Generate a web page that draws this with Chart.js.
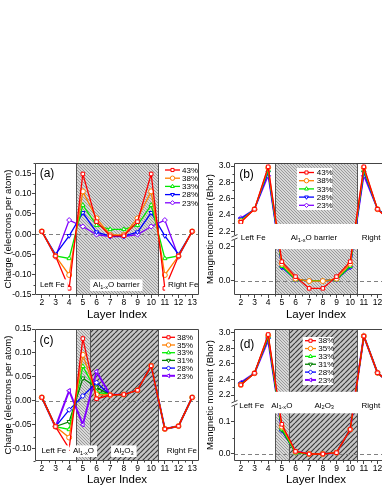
<!DOCTYPE html>
<html>
<head>
<meta charset="utf-8">
<script src="https://cdn.jsdelivr.net/npm/chart.js@4.4.0/dist/chart.umd.min.js"></script>
<style>
html, body { margin: 0; padding: 0; background: #fff; overflow: hidden; }
#wrap { position: relative; width: 382px; height: 494px; overflow: hidden; }
canvas { position: absolute; }
</style>
</head>
<body>
<div id="wrap">
  <canvas id="a" width="205" height="176" style="left:0;top:150px"></canvas>
  <canvas id="b" width="210" height="176" style="left:195px;top:150px"></canvas>
  <canvas id="c" width="205" height="176" style="left:0;top:318px"></canvas>
  <canvas id="d" width="210" height="176" style="left:195px;top:318px"></canvas>
</div>
<script>
const FONT = "'Liberation Sans', Arial, sans-serif";
const AXIS = '#444';

// layer index shared by every panel
const LAYERS = [2, 3, 4, 5, 6, 7, 8, 9, 10, 11, 12, 13];

// (a) charge, symmetric barrier
const A_NAMES = ['43%', '38%', '33%', '28%', '23%'];
const A_43 = [0.007, -0.054, -0.134, 0.149, 0.031, -0.004, -0.004, 0.031, 0.149, -0.134, -0.054, 0.007];
const A_38 = [0.007, -0.054, -0.101, 0.106, 0.039, -0.002, -0.002, 0.039, 0.106, -0.101, -0.054, 0.007];
const A_33 = [0.007, -0.054, -0.060, 0.072, 0.022, 0.012, 0.012, 0.022, 0.072, -0.060, -0.054, 0.007];
const A_28 = [0.007, -0.050, -0.004, 0.053, 0.005, -0.005, -0.005, 0.005, 0.053, -0.004, -0.050, 0.007];
const A_23 = [0.007, -0.056, 0.035, 0.019, -0.001, -0.006, -0.006, -0.001, 0.019, 0.035, -0.056, 0.007];
const A_TICKS = [-0.15, -0.1, -0.05, 0, 0.05, 0.1, 0.15];

// (b) magnetic moment, symmetric barrier
const B_43 = [2.31, 2.47, 2.99, 0.112, 0.024, -0.045, -0.045, 0.024, 0.112, 2.99, 2.47, 2.31];
const B_38 = [2.32, 2.47, 2.98, 0.100, 0.012, -0.002, -0.002, 0.012, 0.100, 2.98, 2.47, 2.32];
const B_33 = [2.33, 2.47, 2.95, 0.085, 0.006, 0.0, 0.0, 0.006, 0.085, 2.95, 2.47, 2.33];
const B_28 = [2.35, 2.47, 2.92, 0.080, 0.006, 0.0, 0.0, 0.006, 0.080, 2.92, 2.47, 2.35];
const B_23 = [2.36, 2.47, 2.88, 0.079, 0.006, 0.0, 0.0, 0.006, 0.079, 2.88, 2.47, 2.36];
const B_TICKS = [0, 0.2, 2.2, 2.4, 2.6, 2.8, 3.0];

// (c) charge, Al1-xO / Al2O3 barrier
const C_NAMES = ['38%', '35%', '33%', '31%', '28%', '23%'];
const C_38 = [0.007, -0.054, -0.100, 0.130, 0.004, 0.012, 0.013, 0.022, 0.073, -0.059, -0.053, 0.007];
const C_35 = [0.007, -0.054, -0.077, 0.096, 0.013, 0.012, 0.013, 0.022, 0.073, -0.059, -0.053, 0.007];
const C_33 = [0.007, -0.054, -0.060, 0.072, 0.019, 0.012, 0.013, 0.022, 0.073, -0.059, -0.053, 0.007];
const C_31 = [0.007, -0.054, -0.044, 0.047, 0.028, 0.012, 0.013, 0.022, 0.073, -0.059, -0.053, 0.007];
const C_28 = [0.007, -0.054, -0.019, 0.010, 0.038, 0.012, 0.013, 0.022, 0.073, -0.059, -0.053, 0.007];
const C_23 = [0.007, -0.055, 0.021, -0.050, 0.061, 0.012, 0.013, 0.022, 0.073, -0.059, -0.053, 0.007];
const C_TICKS = [-0.1, -0.05, 0, 0.05, 0.1, 0.15];

// (d) magnetic moment, Al1-xO / Al2O3 barrier
const D_38 = [2.33, 2.48, 2.975, 0.092, 0.008, 0.0, 0.0, 0.004, 0.076, 2.955, 2.485, 2.34];
const D_35 = [2.33, 2.48, 2.965, 0.085, 0.007, 0.0, 0.0, 0.004, 0.076, 2.955, 2.485, 2.34];
const D_33 = [2.335, 2.48, 2.95, 0.078, 0.004, 0.0, 0.0, 0.004, 0.076, 2.955, 2.485, 2.34];
const D_31 = [2.34, 2.48, 2.94, 0.075, 0.004, 0.0, 0.0, 0.004, 0.076, 2.955, 2.485, 2.34];
const D_28 = [2.35, 2.48, 2.93, 0.072, 0.006, 0.0, 0.0, 0.004, 0.076, 2.955, 2.485, 2.34];
const D_23 = [2.36, 2.48, 2.905, 0.075, 0.008, 0.0, 0.0, 0.004, 0.076, 2.955, 2.485, 2.34];
const D_TICKS = [0, 0.1, 2.2, 2.4, 2.6, 2.8, 3.0];

const COLORS_5 = ['#ff0000', '#ff7f00', '#00e800', '#0000ff', '#8000ff'];
const COLORS_6 = ['#ff0000', '#ff7f00', '#00f000', '#008000', '#0000ff', '#8000ff'];
// Origin-like symbol order: square, circle, up, down, diamond, left
const MARKERS = [['rect', 0], ['circle', 0], ['triangle', 0], ['triangle', 180], ['rectRot', 0], ['triangle', 270]];

Chart.defaults.font.family = FONT;
Chart.defaults.color = '#000';

// piecewise y axis for the broken panels
const BREAKS = {
  b: { lo: 0.25, hi: 2.13, fLo: 0.4303, fHi: 0.4402 },
  d: { lo: 0.148, hi: 2.13, fLo: 0.415, fHi: 0.458 }
};

class BrokenScale extends Chart.LinearScale {
  toDecimal(v) {
    const b = BREAKS[this.chart.canvas.id];
    if (v <= b.lo) return (v - this.min) / (b.lo - this.min) * b.fLo;
    if (v >= b.hi) return b.fHi + (v - b.hi) / (this.max - b.hi) * (1 - b.fHi);
    return b.fLo + (v - b.lo) / (b.hi - b.lo) * (b.fHi - b.fLo);
  }
  getPixelForValue(v) {
    return this.getPixelForDecimal(this.toDecimal(v));
  }
  getValueForPixel(p) {
    const b = BREAKS[this.chart.canvas.id];
    const f = this.getDecimalForPixel(p);
    if (f <= b.fLo) return this.min + f / b.fLo * (b.lo - this.min);
    if (f >= b.fHi) return b.hi + (f - b.fHi) / (1 - b.fHi) * (this.max - b.hi);
    return b.lo + (f - b.fLo) / (b.fHi - b.fLo) * (b.hi - b.lo);
  }
}
BrokenScale.id = 'broken';
BrokenScale.defaults = Chart.LinearScale.defaults;
Chart.register(BrokenScale);

const SUB_AL = ['Al', ['1-x'], 'O'];
const SUB_AL2 = ['Al', ['2'], 'O', ['3']];

const PANELS = {
  a: {
    tag: '(a)', tagAt: [12, 11],
    regions: [[4.5, 10.5, 'fine']],
    labelDy: 122,
    labels: [
      { x: 2.77, segs: ['Left Fe'] },
      { x: 7.45, segs: ['Al', ['1-x'], 'O barrier'] },
      { x: 11.24, segs: ['Right Fe'], align: 'left' }
    ],
    legend: { dx: 130, len: 15, gap: 2, dy: 7, row: 8.2 },
    minorY: [-0.125, -0.075, -0.025, 0.025, 0.075, 0.125, 0.175]
  },
  b: {
    tag: '(b)', tagAt: [12.5, 12],
    regions: [[4.5, 10.5, 'fine']],
    band: [0.186, 2.288],
    labelDy: 74.7,
    labels: [
      { x: 2.9, segs: ['Left Fe'] },
      { x: 7.35, segs: ['Al', ['1-x'], 'O barrier'] },
      { x: 10.85, segs: ['Right Fe'], align: 'left' }
    ],
    legend: { dx: 65, len: 15, gap: 2.7, dy: 9.5, row: 8.2, box: [63, 5, 35, 42] },
    minorY: [0.1, 2.3, 2.5, 2.7, 2.9]
  },
  c: {
    tag: '(c)', tagAt: [11.5, 12],
    regions: [[4.5, 5.5, 'fine'], [5.5, 10.5, 'coarse']],
    labelDy: 122,
    labels: [
      { x: 2.88, segs: ['Left Fe'] },
      { x: 5.05, segs: SUB_AL },
      { x: 8.0, segs: SUB_AL2 },
      { x: 11.14, segs: ['Right Fe'], align: 'left' }
    ],
    legend: { dx: 127, len: 13, gap: 2, dy: 8.3, row: 7.7 },
    minorY: [-0.125, -0.075, -0.025, 0.025, 0.075, 0.125]
  },
  d: {
    tag: '(d)', tagAt: [13, 16],
    regions: [[4.5, 5.5, 'fine'], [5.5, 10.5, 'coarse']],
    band: [0.126, 2.242],
    labelDy: 76.5,
    labels: [
      { x: 2.79, segs: ['Left Fe'] },
      { x: 5.0, segs: SUB_AL },
      { x: 8.1, segs: SUB_AL2 },
      { x: 10.83, segs: ['Right Fe'], align: 'left' }
    ],
    legend: { dx: 71, len: 11, gap: 2.3, dy: 11.7, row: 7.85, box: [68.7, 8, 30.6, 48] },
    minorY: [0.05, 2.3, 2.5, 2.7, 2.9]
  }
};

function makePattern(ctx, kind) {
  const fine = kind === 'fine';
  const s = fine ? 3 : 5;
  const c = document.createElement('canvas');
  c.width = s; c.height = s;
  const g = c.getContext('2d');
  g.fillStyle = fine ? '#d8d8d8' : '#c6c6c6';
  g.fillRect(0, 0, s, s);
  g.strokeStyle = fine ? '#8c8c8c' : '#3a3a3a';
  g.lineWidth = fine ? 0.8 : 1.2;
  g.beginPath();
  for (let k = -1; k <= 1; k++) {
    if (fine) { g.moveTo(k * s, 0); g.lineTo(k * s + s, s); }
    else { g.moveTo(k * s, s); g.lineTo(k * s + s, 0); }
  }
  g.stroke();
  return ctx.createPattern(c, 'repeat');
}

function drawRich(ctx, segs, x, y, align, size) {
  const parts = segs.map(s => Array.isArray(s) ? { t: s[0], sub: true } : { t: s, sub: false });
  let w = 0;
  parts.forEach(p => {
    ctx.font = `${p.sub ? size * 0.7 : size}px ${FONT}`;
    p.w = ctx.measureText(p.t).width;
    w += p.w;
  });
  let x0 = align === 'left' ? x : x - w / 2;
  ctx.fillStyle = '#fff';
  ctx.fillRect(x0 - 3, y - size * 0.7, w + 6, size * 1.45);
  ctx.fillStyle = '#000';
  ctx.textBaseline = 'middle';
  ctx.textAlign = 'left';
  parts.forEach(p => {
    ctx.font = `${p.sub ? size * 0.7 : size}px ${FONT}`;
    ctx.fillText(p.t, x0, p.sub ? y + size * 0.3 : y);
    x0 += p.w;
  });
}

const decor = {
  id: 'decor',
  beforeDatasetsDraw(chart) {
    const p = PANELS[chart.canvas.id];
    const { ctx, chartArea: ca, scales: { x, y } } = chart;
    ctx.save();
    ctx.beginPath();
    ctx.rect(ca.left, ca.top, ca.right - ca.left, ca.bottom - ca.top);
    ctx.clip();
    p.regions.forEach(([x0, x1, kind]) => {
      const px0 = x.getPixelForValue(x0), px1 = x.getPixelForValue(x1);
      ctx.fillStyle = makePattern(ctx, kind);
      ctx.fillRect(px0, ca.top, px1 - px0, ca.bottom - ca.top);
      ctx.strokeStyle = '#555';
      ctx.lineWidth = 1;
      ctx.strokeRect(Math.round(px0) + 0.5, ca.top, Math.round(px1 - px0), ca.bottom - ca.top);
    });
    const y0 = Math.round(y.getPixelForValue(0)) + 0.5;
    ctx.setLineDash([4, 3]);
    ctx.strokeStyle = '#808080';
    ctx.lineWidth = 1;
    ctx.beginPath();
    ctx.moveTo(ca.left, y0);
    ctx.lineTo(ca.right, y0);
    ctx.stroke();
    ctx.restore();
  },
  afterDatasetsDraw(chart) {
    const p = PANELS[chart.canvas.id];
    const { ctx, chartArea: ca, scales: { x, y } } = chart;
    ctx.save();

    // white gap of the broken axis
    if (p.band) {
      const yb0 = y.getPixelForValue(p.band[1]), yb1 = y.getPixelForValue(p.band[0]);
      ctx.fillStyle = '#fff';
      ctx.fillRect(ca.left + 1, yb0, ca.right - ca.left - 2, yb1 - yb0);
    }

    // region labels
    p.labels.forEach(l => {
      drawRich(ctx, l.segs, x.getPixelForValue(l.x), ca.top + p.labelDy, l.align || 'center', 8);
    });

    // legend
    const lg = p.legend;
    if (lg.box) {
      ctx.fillStyle = '#fff';
      ctx.fillRect(ca.left + lg.box[0], ca.top + lg.box[1], lg.box[2], lg.box[3]);
    }
    chart.data.datasets.forEach((ds, i) => {
      const yy = ca.top + lg.dy + i * lg.row;
      const x0 = ca.left + lg.dx;
      ctx.strokeStyle = ds.borderColor;
      ctx.lineWidth = ds.borderWidth;
      ctx.beginPath();
      ctx.moveTo(x0, yy);
      ctx.lineTo(x0 + lg.len, yy);
      ctx.stroke();
      ctx.fillStyle = '#fff';
      ctx.lineWidth = 1;
      Chart.helpers.drawPoint(ctx, { pointStyle: ds.pointStyle, rotation: ds.pointRotation, radius: 2.2, borderWidth: 1 }, x0 + lg.len / 2, yy);
      ctx.fillStyle = '#000';
      ctx.font = `8px ${FONT}`;
      ctx.textAlign = 'left';
      ctx.textBaseline = 'middle';
      ctx.fillText(ds.label, x0 + lg.len + lg.gap, yy + 0.5);
    });

    // panel tag
    ctx.font = `12px ${FONT}`;
    ctx.fillStyle = '#000';
    ctx.textAlign = 'center';
    ctx.textBaseline = 'middle';
    ctx.fillText(p.tag, ca.left + p.tagAt[0], ca.top + p.tagAt[1]);

    // frame
    ctx.strokeStyle = AXIS;
    ctx.lineWidth = 1;
    const L = Math.round(ca.left) + 0.5, R = Math.round(ca.right) - 0.5;
    const T = Math.round(ca.top) + 0.5, B = Math.round(ca.bottom) - 0.5;
    ctx.beginPath();
    ctx.moveTo(L, B); ctx.lineTo(R, B); ctx.lineTo(R, T); ctx.lineTo(L, T);
    if (BREAKS[chart.canvas.id]) {
      const br = BREAKS[chart.canvas.id];
      const yb = y.getPixelForValue((br.lo + br.hi) / 2);
      ctx.lineTo(L, yb - 2.5);
      ctx.moveTo(L, yb + 2.5);
      ctx.lineTo(L, B);
      ctx.stroke();
      ctx.beginPath();
      ctx.moveTo(L - 3, yb - 0.5); ctx.lineTo(L + 3, yb - 3);
      ctx.moveTo(L - 3, yb + 3); ctx.lineTo(L + 3, yb + 0.5);
      ctx.stroke();
    } else {
      ctx.lineTo(L, B);
      ctx.stroke();
    }

    // minor ticks
    ctx.beginPath();
    p.minorY.forEach(v => {
      const py = Math.round(y.getPixelForValue(v)) + 0.5;
      ctx.moveTo(L, py); ctx.lineTo(L - 2, py);
    });
    LAYERS.forEach(v => {
      const px = Math.round(x.getPixelForValue(v + 0.5)) + 0.5;
      if (px < ca.right) { ctx.moveTo(px, B); ctx.lineTo(px, B + 2); }
    });
    ctx.stroke();
    ctx.restore();
  }
};

function buildSets(names, rows, colors, thickLast) {
  return names.map((name, i) => ({
    label: name,
    data: LAYERS.map((l, j) => ({ x: l, y: rows[i][j] })),
    borderColor: colors[i],
    backgroundColor: colors[i],
    borderWidth: thickLast && i === names.length - 1 ? 2 : 1.3,
    pointStyle: MARKERS[i][0],
    pointRotation: MARKERS[i][1],
    pointRadius: 2.5,
    pointBorderWidth: 1,
    pointBackgroundColor: '#fff',
    pointBorderColor: colors[i],
    tension: 0
  }));
}

function makeChart(id, datasets, cfg) {
  return new Chart(document.getElementById(id), {
    type: 'line',
    data: { datasets },
    options: {
      responsive: false,
      animation: false,
      events: [],
      layout: { padding: { top: cfg.padTop, right: cfg.padRight, left: 0, bottom: 0 } },
      plugins: { legend: { display: false }, tooltip: { enabled: false } },
      scales: {
        x: {
          type: 'linear', min: 1.5, max: 13.5,
          afterBuildTicks: ax => { ax.ticks = LAYERS.map(v => ({ value: v })); },
          afterFit: ax => { ax.height = cfg.xH; },
          ticks: { autoSkip: false, maxRotation: 0, padding: 0, font: { size: 8.5 }, callback: v => String(v) },
          grid: { drawOnChartArea: false, tickLength: 3, tickColor: AXIS },
          border: { display: false },
          title: { display: true, text: 'Layer Index', font: { size: 11.5 }, padding: { top: 0, bottom: cfg.xTitlePad } }
        },
        y: {
          type: cfg.yType, min: cfg.yMin, max: cfg.yMax,
          afterBuildTicks: ax => { ax.ticks = cfg.yTicks.map(v => ({ value: v })); },
          afterFit: ax => { ax.width = cfg.yW; },
          ticks: { autoSkip: false, padding: 0.5, font: { size: 8.5 }, callback: v => v.toFixed(cfg.dec) },
          grid: { drawOnChartArea: false, tickLength: 3, tickColor: AXIS },
          border: { display: false },
          title: { display: true, text: cfg.yTitle, font: { size: 9.5 }, padding: { top: cfg.yTitlePad, bottom: 0 } }
        }
      }
    },
    plugins: [decor]
  });
}

makeChart('a', buildSets(A_NAMES, [A_43, A_38, A_33, A_28, A_23], COLORS_5, false), {
  padTop: 13, padRight: 6, xH: 31, xTitlePad: 4, yW: 35, yTitlePad: 2.3,
  yType: 'linear', yMin: -0.1505, yMax: 0.1762, yTicks: A_TICKS, dec: 2,
  yTitle: 'Charge (electrons per atom)'
});

makeChart('b', buildSets(A_NAMES, [B_43, B_38, B_33, B_28, B_23], COLORS_5, false), {
  padTop: 13, padRight: 7, xH: 31, xTitlePad: 4, yW: 39, yTitlePad: 9.8,
  yType: 'broken', yMin: -0.084, yMax: 3.037, yTicks: B_TICKS, dec: 1,
  yTitle: 'Mangnetic moment (Bhor)'
});

makeChart('c', buildSets(C_NAMES, [C_38, C_35, C_33, C_31, C_28, C_23], COLORS_6, true), {
  padTop: 11, padRight: 6, xH: 33, xTitlePad: 7, yW: 35, yTitlePad: 2.3,
  yType: 'linear', yMin: -0.126, yMax: 0.15, yTicks: C_TICKS, dec: 2,
  yTitle: 'Charge (electrons per atom)'
});

makeChart('d', buildSets(C_NAMES, [D_38, D_35, D_33, D_31, D_28, D_23], COLORS_6, true), {
  padTop: 11, padRight: 7, xH: 33, xTitlePad: 7, yW: 39, yTitlePad: 9.8,
  yType: 'broken', yMin: -0.0217, yMax: 3.046, yTicks: D_TICKS, dec: 1,
  yTitle: 'Mangnetic moment (Bhor)'
});
</script>
</body>
</html>
